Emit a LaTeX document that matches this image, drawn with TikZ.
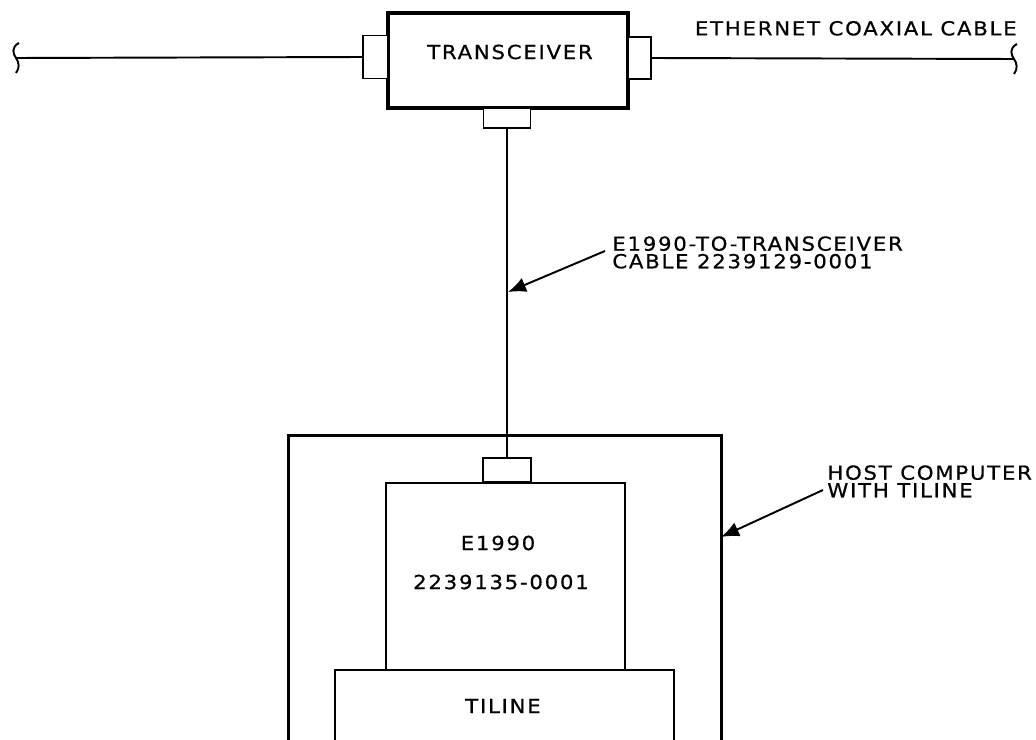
\documentclass[tikz,border=0pt]{standalone}
\usepackage{fontspec}
\setmainfont{DejaVu Sans}
\newfontfamily\plotfont[FakeStretch=1.1,LetterSpace=9,FakeBold=0.6]{DejaVu Sans}
\usetikzlibrary{arrows.meta}
\newcommand{\PU}{0.02cm}

\begin{document}
\begin{tikzpicture}[
    x=\PU, y=-\PU,
    heavy/.style={draw=black, line width=1.8pt, inner sep=0pt},
    box/.style={draw=black, line width=1.2pt, inner sep=0pt},
    plug/.style={draw=black, line width=1.1pt, fill=white, inner sep=0pt},
    coax/.style={draw=black, line width=1.1pt},
    lead/.style={draw=black, line width=1.1pt, -{Latex[length=3.6mm,width=3mm]}},
    txt/.style={font=\plotfont\fontsize{11}{10}\selectfont, inner sep=0pt, align=left},
  ]
  \useasboundingbox (0,0) rectangle (1036,740);

  % squiggle cut mark on a cable end
  \newcommand{\cutmark}[1]{%
    \begin{scope}[shift={(#1)}]
      \draw[coax] (3,-15) .. controls (-5,-11) and (-3,-4) .. (0,0)
                  .. controls (3,4) and (4,10) .. (0,15);
    \end{scope}}

  %% ================= transceiver on the coax =================
  \node[heavy, minimum width={240*\PU}, minimum height={95*\PU}] (xcvr) at (508,60.5) {};
  \node[txt] (xcvrtxt) at (510,52) {TRANSCEIVER};
  \node[plug, minimum width={25*\PU}, minimum height={43*\PU}] (plugL) at (375.5,57) {};
  \node[plug, minimum width={23*\PU}, minimum height={42*\PU}] (plugR) at (639.5,58) {};
  \node[plug, minimum width={47*\PU}, minimum height={20*\PU}] (plugB) at (507,118) {};

  \coordinate (endL) at (16,58);
  \coordinate (endR) at (1014,59);
  \draw[coax] (plugL.west) -- (endL);
  \draw[coax] (plugR.east) -- (endR);
  \cutmark{endL}
  \cutmark{endR}
  \node[txt, anchor=south east] (coaxtxt) at (1017,36) {ETHERNET COAXIAL CABLE};

  %% ================= host computer =================
  \node[heavy, minimum width={433*\PU}, minimum height={340*\PU}, anchor=north west] (host) at (287,434) {};
  \node[box, minimum width={239*\PU}, minimum height={187*\PU}, anchor=north west] (e1990) at (385,482) {};
  \node[plug, minimum width={48*\PU}, minimum height={24*\PU}] (eplug) at (507,470) {};
  \node[txt] (etxt) at (498,543) {E1990};
  \node[txt] (pntxt) at (501,582) {2239135-0001};
  \node[box, minimum width={339*\PU}, minimum height={120*\PU}, anchor=north west] (tiline) at (334,669) {};
  \node[txt] (ttxt) at (503,706) {TILINE};

  % transceiver drop cable
  \draw[coax] (plugB.south) -- (eplug.north);

  %% ================= call-outs =================
  \node[txt, anchor=north west] (cabletxt) at (612,236) {E1990-TO-TRANSCEIVER\\CABLE 2239129-0001};
  \coordinate (cabletail) at (605,251);
  \coordinate (cabletip) at (508,292);
  \draw[lead] (cabletail) -- (cabletip);

  \node[txt, anchor=north west] (hosttxt) at (827,465) {HOST COMPUTER\\WITH TILINE};
  \coordinate (hosttail) at (823,490);
  \coordinate (hosttip) at (721,537);
  \draw[lead] (hosttail) -- (hosttip);

\end{tikzpicture}
\end{document}
